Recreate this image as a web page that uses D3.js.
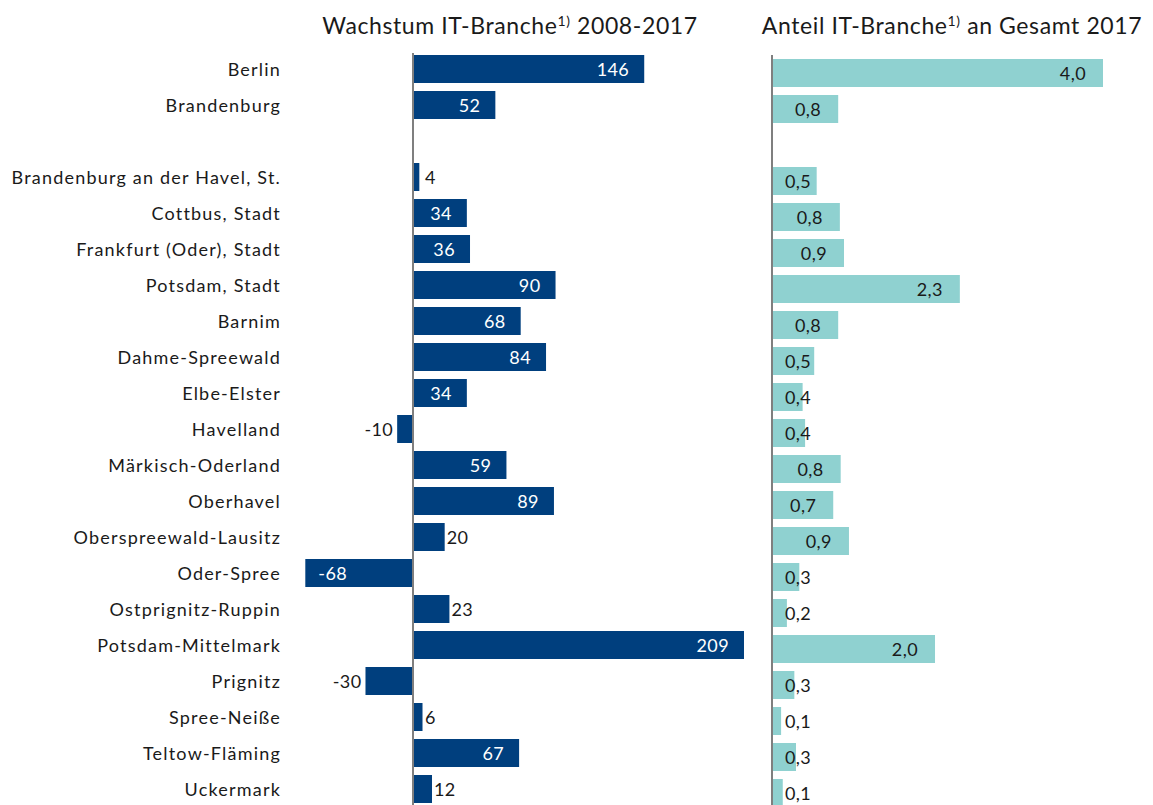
<!DOCTYPE html>
<html>
<head>
<meta charset="utf-8">
<script src="https://cdn.jsdelivr.net/npm/d3@7"></script>
<style>
  body { margin: 0; background: #fff; }
  svg { display: block; font-family: Lato, "Open Sans", sans-serif; }
  .cat { font-size: 18px; fill: #1a1a1a; letter-spacing: 1.2px; }
  .val { font-size: 18px; letter-spacing: 0.4px; }
  .title { font-size: 23px; fill: #1a1a1a; letter-spacing: 0.6px; }
</style>
</head>
<body>
<svg id="chart" width="1153" height="805"></svg>
<script>
// Regions, "" is the empty slot between the states and the districts
var regions = ["Berlin", "Brandenburg", "",
  "Brandenburg an der Havel, St.", "Cottbus, Stadt", "Frankfurt (Oder), Stadt",
  "Potsdam, Stadt", "Barnim", "Dahme-Spreewald", "Elbe-Elster", "Havelland",
  "Märkisch-Oderland", "Oberhavel", "Oberspreewald-Lausitz", "Oder-Spree",
  "Ostprignitz-Ruppin", "Potsdam-Mittelmark", "Prignitz", "Spree-Neiße",
  "Teltow-Fläming", "Uckermark"];

// Wachstum IT-Branche 2008-2017 (%)
var growth = [146, 52, null, 4, 34, 36, 90, 68, 84, 34, -10, 59, 89, 20, -68,
  23, 209, -30, 6, 67, 12];

// Anteil IT-Branche an Gesamt 2017 (%)
var share = [4.0, 0.80, null, 0.54, 0.82, 0.87, 2.27, 0.80, 0.51, 0.37, 0.40,
  0.83, 0.74, 0.93, 0.33, 0.18, 1.97, 0.27, 0.11, 0.29, 0.13];

var titleLeft = ["Wachstum IT-Branche", "1)", " 2008-2017"];
var titleRight = ["Anteil IT-Branche", "1)", " an Gesamt 2017"];

var svg = d3.select("#chart");
var dark = "#003f7e", teal = "#8fd1d0", txt = "#1a1a1a";

// Row positions: 36px per row, 28px bars
var n = regions.length;
var y = d3.scaleBand()
    .domain(d3.range(n))
    .range([55, 55 + 36 * n - 8])
    .paddingInner(8 / 36)
    .paddingOuter(0);

var fmt = function (v) { return d3.format(".1f")(v).replace(".", ","); };

// Category labels
svg.selectAll("text.cat")
    .data(regions)
    .enter()
    .append("text")
    .attr("class", "cat")
    .attr("x", 281)
    .attr("y", function (d, i) { return y(i) + y.bandwidth() / 2 + 1; })
    .attr("dy", "0.35em")
    .attr("text-anchor", "end")
    .text(function (d) { return d; });

// Left panel: growth
var x1 = d3.scaleLinear().domain([0, 209]).range([413, 744]);
var gL = svg.append("g");

var rowsL = regions.map(function (r, i) { return { i: i, v: growth[i] }; })
    .filter(function (d) { return d.v !== null; });

gL.selectAll("rect")
    .data(rowsL)
    .enter()
    .append("rect")
    .attr("x", function (d) { return Math.min(x1(0), x1(d.v)); })
    .attr("y", function (d) { return y(d.i); })
    .attr("width", function (d) { return Math.abs(x1(d.v) - x1(0)); })
    .attr("height", y.bandwidth())
    .attr("fill", dark);

gL.selectAll("text")
    .data(rowsL)
    .enter()
    .append("text")
    .attr("class", "val")
    .attr("y", function (d) { return y(d.i) + y.bandwidth() / 2 + 1; })
    .attr("dy", "0.35em")
    .text(function (d) { return d.v; })
    .each(function (d) {
        var t = d3.select(this);
        var w = Math.abs(x1(d.v) - x1(0));
        var inside = w > 50;
        t.attr("fill", inside ? "#fff" : txt);
        if (d.v >= 0) {
            if (inside) t.attr("text-anchor", "end").attr("x", x1(d.v) - 15);
            else t.attr("text-anchor", "start").attr("x", Math.max(x1(d.v) + 2, x1(0) + 12));
        } else {
            if (inside) t.attr("text-anchor", "start").attr("x", x1(d.v) + 13);
            else t.attr("text-anchor", "end").attr("x", x1(d.v) - 4);
        }
    });

gL.append("line")
    .attr("x1", x1(0)).attr("x2", x1(0))
    .attr("y1", 53).attr("y2", 805)
    .attr("stroke", "#7f7f7f").attr("stroke-width", 2);

// Right panel: share
var x2 = d3.scaleLinear().domain([0, 4]).range([772, 1103]);
var gR = svg.append("g").attr("transform", "translate(0,4)");

var rowsR = regions.map(function (r, i) { return { i: i, v: share[i] }; })
    .filter(function (d) { return d.v !== null; });

gR.selectAll("rect")
    .data(rowsR)
    .enter()
    .append("rect")
    .attr("x", x2(0))
    .attr("y", function (d) { return y(d.i); })
    .attr("width", function (d) { return x2(d.v) - x2(0); })
    .attr("height", y.bandwidth())
    .attr("fill", teal);

gR.selectAll("text")
    .data(rowsR)
    .enter()
    .append("text")
    .attr("class", "val")
    .attr("fill", txt)
    .attr("y", function (d) { return y(d.i) + y.bandwidth() / 2 + 1; })
    .attr("dy", "0.35em")
    .text(function (d) { return fmt(d.v); })
    .each(function (d) {
        var w = this.getComputedTextLength();
        d3.select(this).attr("x", Math.max(x2(d.v) - 17 - w, x2(0) + 13));
    });

svg.append("line")
    .attr("x1", x2(0)).attr("x2", x2(0))
    .attr("y1", 55).attr("y2", 805)
    .attr("stroke", "#7f7f7f").attr("stroke-width", 2);

// Titles with superscript footnote marks
function title(parts, cx) {
    var t = svg.append("text")
        .attr("class", "title")
        .attr("x", cx)
        .attr("y", 34)
        .attr("text-anchor", "middle");
    t.append("tspan").text(parts[0]);
    t.append("tspan").attr("dy", -8).style("font-size", "14px").text(parts[1]);
    t.append("tspan").attr("dy", 8).text(parts[2]);
}
title(titleLeft, 510);
title(titleRight, 952);
</script>
</body>
</html>
